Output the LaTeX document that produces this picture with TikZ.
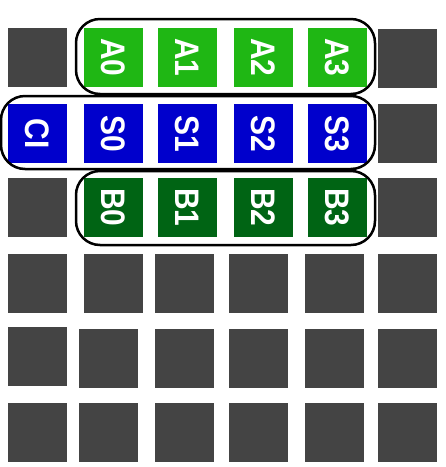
\documentclass[tikz,border=0pt]{standalone}
\usepackage{fontspec}
\setmainfont{Liberation Sans}
\definecolor{cellgray}{HTML}{444444}
\definecolor{agreen}{HTML}{1FB714}
\definecolor{sblue}{HTML}{0000CC}
\definecolor{bgreen}{HTML}{006414}
\newcommand{\bitlabel}[1]{\scalebox{.88}[1]{#1}}

\begin{document}
\begin{tikzpicture}[x=1pt, y=-1pt,
  cell/.style={rectangle, minimum size=59pt, inner sep=0pt, fill=cellgray},
  bit/.style={cell, rotate=-90, text=white, font=\fontsize{34}{34}\selectfont\bfseries},
  abit/.style={bit, fill=agreen},
  sbit/.style={bit, fill=sblue},
  bbit/.style={bit, fill=bgreen},
  group/.style={draw=black, line width=2.5pt, rounded corners=24pt}
]
\useasboundingbox (0,0) rectangle (446,467);

% operand A
\node[cell] (g00) at (37.5,57.5) {};
\node[abit] (a0)  at (113.5,57.5) {\bitlabel{A0}};
\node[abit] (a1)  at (187.5,57.5) {\bitlabel{A1}};
\node[abit] (a2)  at (263.5,57.5) {\bitlabel{A2}};
\node[abit] (a3)  at (337.5,57.5) {\bitlabel{A3}};
\node[cell] (g05) at (407.5,58.5) {};

% carry in and sum
\node[sbit] (ci)  at (37.5,133.5)  {\bitlabel{CI}};
\node[sbit] (s0)  at (113.5,133.5) {\bitlabel{S0}};
\node[sbit] (s1)  at (187.5,133.5) {\bitlabel{S1}};
\node[sbit] (s2)  at (263.5,133.5) {\bitlabel{S2}};
\node[sbit] (s3)  at (337.5,133.5) {\bitlabel{S3}};
\node[cell] (g15) at (407.5,133.5) {};

% operand B
\node[cell] (g20) at (37.5,207.5)  {};
\node[bbit] (b0)  at (113.5,207.5) {\bitlabel{B0}};
\node[bbit] (b1)  at (187.5,207.5) {\bitlabel{B1}};
\node[bbit] (b2)  at (263.5,207.5) {\bitlabel{B2}};
\node[bbit] (b3)  at (337.5,207.5) {\bitlabel{B3}};
\node[cell] (g25) at (407.5,207.5) {};

% unused cells
\node[cell] (g30) at (37.5,283.5)  {};
\node[cell] (g31) at (113.5,283.5) {};
\foreach \c/\x in {2/184.5, 3/258.5, 4/334.5, 5/407.5}
  \node[cell] (g3\c) at (\x,283.5) {};
\node[cell] (g40) at (37.5,356.5) {};
\foreach \c/\x in {1/108.5, 2/184.5, 3/258.5, 4/334.5, 5/407.5}
  \node[cell] (g4\c) at (\x,358) {};
\foreach \c/\x in {0/37.5, 1/108.5, 2/184.5, 3/258.5, 4/334.5, 5/407.5}
  \node[cell] (g5\c) at (\x,432.5) {};

% groups
\draw[group] (76,19)  rectangle (375,94);
\draw[group] (1,96)   rectangle (375,169);
\draw[group] (76,171) rectangle (375,245);

\end{tikzpicture}
\end{document}
